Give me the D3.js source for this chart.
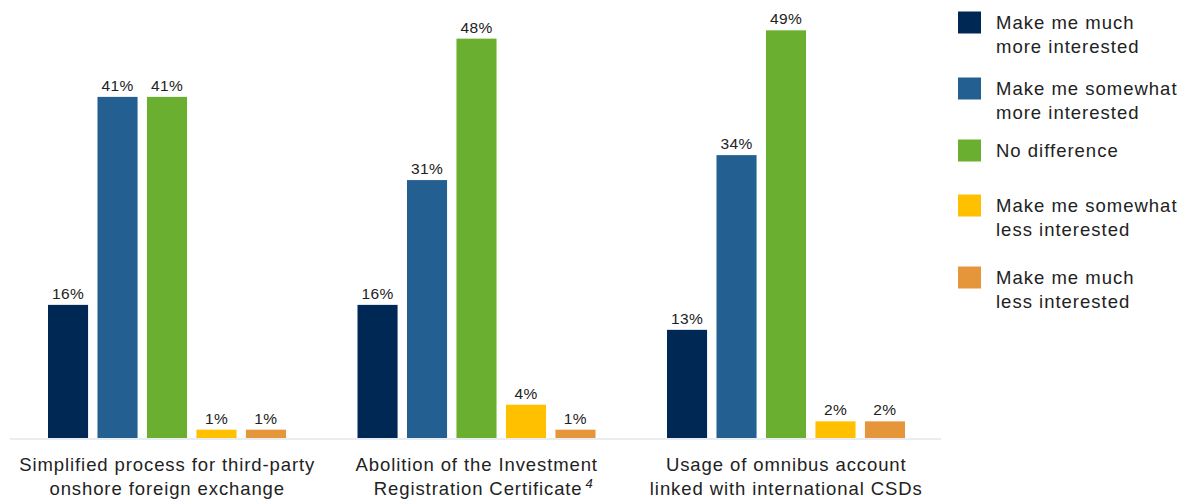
<!DOCTYPE html>
<html>
<head>
<meta charset="utf-8">
<script src="https://cdn.jsdelivr.net/npm/d3@7"></script>
<style>
  html, body { margin: 0; padding: 0; background: #fff; }
  svg { display: block; font-family: "Liberation Sans", Arial, sans-serif; }
</style>
</head>
<body>
<svg id="chart" width="1183" height="501"></svg>
<script>
// Survey: effect of proposed changes on investor interest
const categories = [
  ["Simplified process for third-party", "onshore foreign exchange"],
  ["Abolition of the Investment", "Registration Certificate"],
  ["Usage of omnibus account", "linked with international CSDs"]
];
const footnotes = ["", "4", ""];
const seriesNames = [
  ["Make me much", "more interested"],
  ["Make me somewhat", "more interested"],
  ["No difference"],
  ["Make me somewhat", "less interested"],
  ["Make me much", "less interested"]
];
const seriesColors = ["#002855", "#245f92", "#6aaf2f", "#ffc000", "#e5963b"];
// values[series][category], in percent
const muchMore     = [16, 16, 13];
const somewhatMore = [41, 31, 34];
const noDifference = [41, 48, 49];
const somewhatLess = [1, 4, 2];
const muchLess     = [1, 1, 2];
const values = [muchMore, somewhatMore, noDifference, somewhatLess, muchLess];

const svg = d3.select("#chart");
const baseY = 438;

const x0 = d3.scaleBand().domain(d3.range(categories.length)).range([12.5, 941]).padding(0);
const x1 = d3.scaleBand().domain(d3.range(values.length)).range([35.5, 273.5]).paddingInner(0.19).paddingOuter(0);
const y = d3.scaleLinear().domain([0, 50]).range([baseY, 22]);

// baseline
svg.append("line")
  .attr("x1", 10).attr("x2", 941)
  .attr("y1", baseY + 1).attr("y2", baseY + 1)
  .attr("stroke", "#e9ecf0").attr("stroke-width", 2);

const groups = svg.selectAll("g.group")
  .data(categories)
  .join("g")
  .attr("class", "group")
  .attr("transform", (d, i) => `translate(${x0(i)},0)`);

groups.each(function(cat, ci) {
  const g = d3.select(this);
  const rows = values.map((arr, si) => ({ si, v: arr[ci] }));
  g.selectAll("rect")
    .data(rows)
    .join("rect")
    .attr("x", d => x1(d.si))
    .attr("width", x1.bandwidth())
    .attr("y", d => y(d.v))
    .attr("height", d => baseY - y(d.v))
    .attr("fill", d => seriesColors[d.si]);
  g.selectAll("text.val")
    .data(rows)
    .join("text")
    .attr("class", "val")
    .attr("x", d => x1(d.si) + x1.bandwidth() / 2)
    .attr("y", d => y(d.v) - 6)
    .attr("text-anchor", "middle")
    .attr("font-size", 15.5)
    .attr("letter-spacing", 0.4)
    .attr("fill", "#222")
    .text(d => d.v + "%");

  const label = g.append("text")
    .attr("text-anchor", "middle")
    .attr("font-size", 18.5)
    .attr("letter-spacing", 0.9)
    .attr("fill", "#222");
  cat.forEach((line, li) => {
    // the footnote marker hangs to the right of a centred line
    const shift = (li === cat.length - 1 && footnotes[ci]) ? 7 : 0;
    label.append("tspan")
      .attr("x", x0.bandwidth() / 2 + shift)
      .attr("y", 471 + li * 24)
      .text(line);
  });
  if (footnotes[ci]) {
    const last = label.selectAll("tspan").filter((d, i) => i === cat.length - 1);
    last.append("tspan")
      .attr("font-size", 13)
      .attr("font-style", "italic")
      .attr("dy", -7)
      .attr("dx", 3)
      .text(footnotes[ci]);
  }
});

// legend
const legendTops = [22, 88, 150, 205, 277];
const legend = svg.selectAll("g.legend")
  .data(seriesNames)
  .join("g")
  .attr("class", "legend")
  .attr("transform", (d, i) => `translate(958,${legendTops[i]})`);
legend.append("rect")
  .attr("x", 0).attr("y", -10.5)
  .attr("width", 23).attr("height", 22)
  .attr("fill", (d, i) => seriesColors[i]);
legend.append("text")
  .attr("font-size", 18.5)
  .attr("letter-spacing", 1)
  .attr("fill", "#222")
  .selectAll("tspan")
  .data(d => d)
  .join("tspan")
  .attr("x", 38)
  .attr("y", (d, i) => 6.5 + i * 24)
  .text(d => d);
</script>
</body>
</html>
